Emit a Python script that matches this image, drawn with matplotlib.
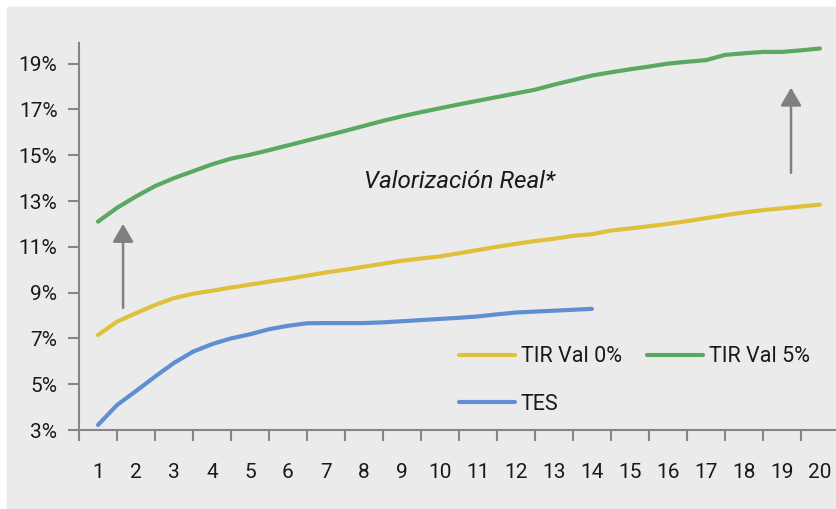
import matplotlib.pyplot as plt
from matplotlib.patches import Rectangle

plt.rcParams['font.family'] = ['Roboto', 'DejaVu Sans']

# plazo en años, cada medio año
plazo = [1 + 0.5 * i for i in range(39)]
plazo_tes = [1 + 0.5 * i for i in range(27)]

tir_val5 = [12.1, 12.7, 13.2, 13.65, 14.0, 14.3, 14.6, 14.85, 15.02, 15.22,
            15.43, 15.64, 15.85, 16.06, 16.28, 16.5, 16.7, 16.88, 17.05, 17.22,
            17.38, 17.54, 17.7, 17.86, 18.08, 18.28, 18.48, 18.62, 18.75, 18.87,
            19.0, 19.08, 19.15, 19.38, 19.45, 19.51, 19.51, 19.58, 19.66]
tir_val0 = [7.15, 7.73, 8.1, 8.46, 8.76, 8.95, 9.08, 9.22, 9.35, 9.48,
            9.6, 9.74, 9.88, 10.0, 10.13, 10.26, 10.39, 10.49, 10.58, 10.72,
            10.86, 11.0, 11.13, 11.25, 11.35, 11.48, 11.55, 11.71, 11.8, 11.9,
            12.0, 12.12, 12.25, 12.38, 12.5, 12.6, 12.68, 12.76, 12.84]
tes = [3.22, 4.09, 4.7, 5.33, 5.93, 6.42, 6.75, 7.0, 7.18, 7.4,
       7.55, 7.66, 7.67, 7.67, 7.67, 7.7, 7.75, 7.8, 7.85, 7.9,
       7.96, 8.05, 8.13, 8.17, 8.21, 8.25, 8.29]

yticks = [3, 5, 7, 9, 11, 13, 15, 17, 19]
xticks = list(range(1, 21))

bg = '#EBEBEB'
gris = '#868686'
texto = '#1A1A1A'

fig = plt.figure(figsize=(8.36, 5.09), dpi=100)
fondo = Rectangle((7 / 836, 1 / 509), 1, 501 / 509, transform=fig.transFigure,
                  color=bg, zorder=-10)
fig.add_artist(fondo)
ax = fig.add_axes([79 / 836, 79 / 509, 758 / 836, 387 / 509])
ax.patch.set_alpha(0)

l0, = ax.plot(plazo, tir_val0, color='#E0C03A', lw=3, solid_capstyle='round', label='TIR Val 0%')
l5, = ax.plot(plazo, tir_val5, color='#5BA862', lw=3, solid_capstyle='round', label='TIR Val 5%')
lt, = ax.plot(plazo_tes, tes, color='#5F8FD2', lw=3, solid_capstyle='round', label='TES')

ax.set_xlim(0.5, 20.45)
ax.set_ylim(3, 19.9)
ax.set_yticks(yticks)
ax.set_yticklabels([f'{v}%' for v in yticks])
ax.set_xticks(xticks)
ax.set_xticks([x + 0.5 for x in range(0, 20)], minor=True)
ax.tick_params(axis='x', which='major', length=0, pad=24)
ax.tick_params(axis='x', which='minor', length=8, width=1.5, color=gris, direction='out')
ax.tick_params(axis='y', length=8, width=1.5, color=gris, pad=7.5)
ax.tick_params(labelsize=15, labelcolor=texto)

for s in ['top', 'right']:
    ax.spines[s].set_visible(False)
for s in ['left', 'bottom']:
    ax.spines[s].set_color(gris)
    ax.spines[s].set_linewidth(1.5)

ax.text(8.0, 13.84, 'Valorización Real*', fontsize=17.5, style='italic',
        color=texto, ha='left', va='center')

flecha = dict(arrowstyle='-|>,head_length=0.55,head_width=0.32', color='#808080',
              lw=1.8, mutation_scale=20, shrinkA=0, shrinkB=0)
ax.annotate('', xy=(1.66, 12.0), xytext=(1.66, 8.33), arrowprops=flecha)
ax.annotate('', xy=(19.24, 17.95), xytext=(19.24, 14.23), arrowprops=flecha)

ax.legend([l0, lt, l5], ['TIR Val 0%', 'TES', 'TIR Val 5%'], ncol=2, frameon=False,
          loc='upper left', bbox_to_anchor=(0.476, 0.267), fontsize=15.5,
          handlelength=2.6, handletextpad=0.25, columnspacing=1.2, labelspacing=1.24,
          labelcolor=texto)

fig.savefig('out.png', dpi=100)
